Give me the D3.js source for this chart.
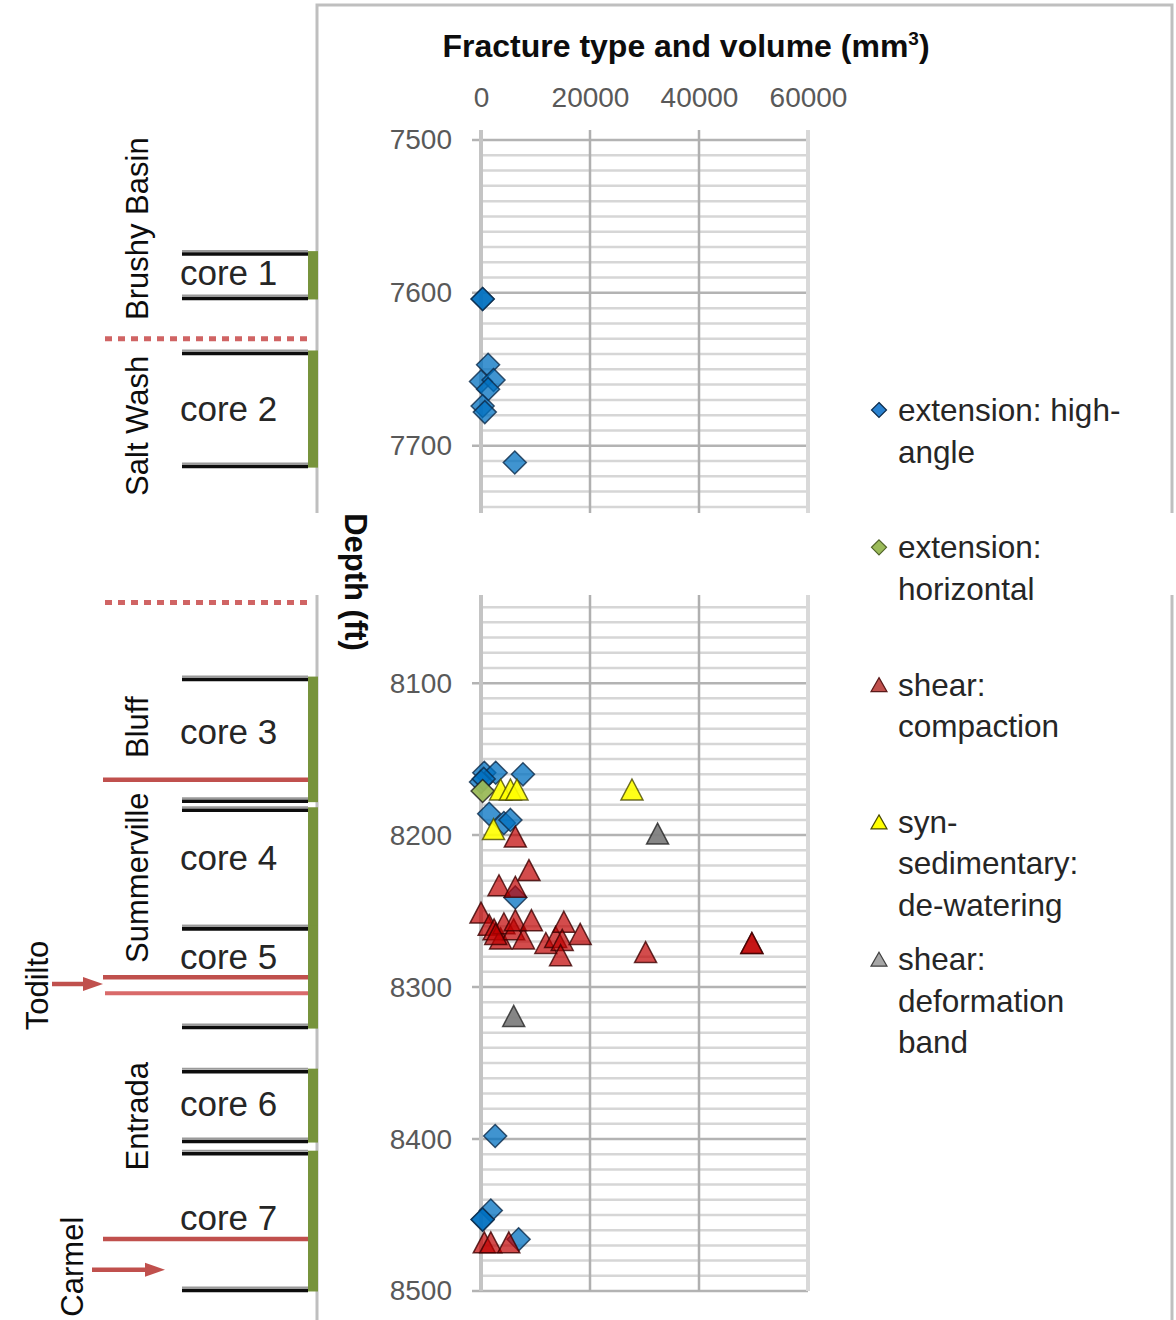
<!DOCTYPE html>
<html>
<head>
<meta charset="utf-8">
<script src="https://cdn.jsdelivr.net/npm/d3@7"></script>
<style>
  html, body { margin: 0; padding: 0; background: #fff; }
  svg { display: block; }
  text { font-family: "Liberation Sans", Arial, sans-serif; }
</style>
</head>
<body>
<svg id="chart" width="1176" height="1320"></svg>
<script>
// ---------------- DATA ----------------
const volumeTicks = [0, 20000, 40000, 60000];
const depthTicksTop = [7500, 7600, 7700];
const depthTicksBottom = [8100, 8200, 8300, 8400, 8500];

// [volume (mm^3), depth (ft)]
const extensionHighAngle = [
  [300, 7604], [300, 7604], [1300, 7647], [0, 7658], [2300, 7657], [1300, 7663],
  [300, 7674], [700, 7678], [6200, 7711],
  [600, 8159], [2700, 8159], [7700, 8160], [0, 8165], [500, 8163],
  [1500, 8186], [4200, 8192], [5400, 8190], [6300, 8241],
  [2600, 8398], [1800, 8447], [300, 8453], [300, 8453], [6900, 8466]
];
const extensionHorizontal = [[300, 8171]];
const shearCompaction = [
  [6300, 8201], [8800, 8223], [3300, 8233], [6300, 8234],
  [0, 8251], [1500, 8259], [2400, 8262], [3600, 8268], [4200, 8258],
  [6000, 8262], [6300, 8256], [7800, 8268], [9250, 8256], [2700, 8265],
  [11900, 8271], [13700, 8267], [15200, 8257], [14900, 8269], [18200, 8265],
  [14600, 8279], [30200, 8277], [49700, 8271], [49700, 8271],
  [600, 8468], [1800, 8468], [5100, 8468]
];
const synSedimentaryDewatering = [[3600, 8170], [5400, 8170], [6600, 8170], [2300, 8196], [27700, 8170]];
const shearDeformationBand = [[32400, 8199], [6000, 8319]];

const legendLabels = [
  ["extension: high-", "angle"],
  ["extension:", "horizontal"],
  ["shear:", "compaction"],
  ["syn-", "sedimentary:", "de-watering"],
  ["shear:", "deformation", "band"]
];

// cores: [label, top depth, bottom depth, label depth]
const cores = [
  ["core 1", 7574, 7603, 7587],
  ["core 2", 7639, 7713, 7676],
  ["core 3", 8097, 8177, 8132],
  ["core 4", 8183, 8261, 8215],
  ["core 5", 8261, 8326, 8280],
  ["core 6", 8355, 8401, 8377],
  ["core 7", 8409, 8499, 8452]
];
// formation names: [name, centre depth]
const formations = [
  ["Brushy Basin", 7558], ["Salt Wash", 7687], ["Bluff", 8129],
  ["Summerville", 8228], ["Entrada", 8385]
];
const sideFormations = [["Todilto", 8299], ["Carmel", 8484]];
const dottedBoundaries = [7630, 8047];
const solidBoundaries = [8163.5, 8293.5, 8465.8];
const paleBoundaries = [8304];
const arrowDepths = [8298, 8486];

// ---------------- SCALES ----------------
const svg = d3.select("#chart");
const x = d3.scaleLinear().domain([0, 60000]).range([481, 808]);
const yTop = d3.scaleLinear().domain([7500, 7744]).range([140, 513]);
const yBot = d3.scaleLinear().domain([8042, 8500]).range([595, 1291]);
const yOf = d => d < 7900 ? yTop(d) : yBot(d);

// ---------------- FRAME ----------------
const frameCol = "#bfbfbf";
svg.append("path")
  .attr("d", "M317,1320 L317,595 M317,513 L317,5 L1172,5 L1172,513 M1172,595 L1172,1320")
  .attr("fill", "none").attr("stroke", frameCol).attr("stroke-width", 3);

// ---------------- GRID ----------------
function grid(scale, d0, d1, yTopPx, yBotPx) {
  const g = svg.append("g");
  const minor = d3.range(Math.ceil(d0 / 10) * 10, d1 + 0.01, 10).filter(v => v % 100 !== 0);
  g.selectAll(".minor").data(minor).join("line")
    .attr("x1", x(0)).attr("x2", x(60000))
    .attr("y1", d => scale(d)).attr("y2", d => scale(d))
    .attr("stroke", "#d6d6d6").attr("stroke-width", 2.5);
  const major = d3.range(Math.ceil(d0 / 100) * 100, d1 + 0.01, 100);
  g.selectAll(".major").data(major).join("line")
    .attr("x1", x(0) - 9).attr("x2", x(60000))
    .attr("y1", d => scale(d)).attr("y2", d => scale(d))
    .attr("stroke", "#b3b3b3").attr("stroke-width", 2.5);
  g.selectAll(".v").data(volumeTicks).join("line")
    .attr("x1", d => x(d)).attr("x2", d => x(d))
    .attr("y1", yTopPx).attr("y2", yBotPx)
    .attr("stroke", (d, i) => (i === 0 ? "#c4c4c4" : i === volumeTicks.length - 1 ? "#d9d9d9" : "#b0b0b0"))
    .attr("stroke-width", (d, i) => (i === 0 || i === volumeTicks.length - 1) ? 4 : 2.5);
}
grid(yTop, 7500, 7744, 130, 513);
grid(yBot, 8042, 8500, 595, 1291);

// ---------------- AXES ----------------
function styleAxis(g) {
  g.select(".domain").remove();
  g.selectAll(".tick line").remove();
  g.selectAll(".tick text").attr("fill", "#595959")
    .style("font-size", "28px").style("font-family", "'Liberation Sans', Arial, sans-serif");
}
svg.append("g").attr("transform", "translate(0,140)")
  .call(d3.axisTop(x).tickValues(volumeTicks).tickFormat(d3.format("d")).tickSize(10).tickPadding(23))
  .call(styleAxis);
svg.append("g").attr("transform", "translate(481,0)")
  .call(d3.axisLeft(yTop).tickValues(depthTicksTop).tickFormat(d3.format("d")).tickSize(9).tickPadding(20))
  .call(styleAxis);
svg.append("g").attr("transform", "translate(481,0)")
  .call(d3.axisLeft(yBot).tickValues(depthTicksBottom).tickFormat(d3.format("d")).tickSize(9).tickPadding(20))
  .call(styleAxis);

// title
const title = svg.append("text").attr("x", 686).attr("y", 57).attr("text-anchor", "middle")
  .attr("font-weight", "bold").attr("font-size", 32).attr("fill", "#0d0d0d");
title.append("tspan").text("Fracture type and volume (mm");
title.append("tspan").attr("font-size", 19).attr("dy", -12).text("3");
title.append("tspan").attr("dy", 12).text(")");

// y label
svg.append("text").attr("transform", "translate(345,582) rotate(90)")
  .attr("text-anchor", "middle").attr("font-weight", "bold").attr("font-size", 31)
  .attr("fill", "#0d0d0d").text("Depth (ft)");

// ---------------- MARKERS ----------------
function diamond(r) { return `M0,${-r}L${r},0L0,${r}L${-r},0Z`; }
function triangle(w, h) { return `M0,${-h / 2}L${w / 2},${h / 2}L${-w / 2},${h / 2}Z`; }

const series = [
  { data: extensionHighAngle, shape: diamond(11.5), fill: "#0070c0", stroke: "#0b2a4a", op: 0.75 },
  { data: extensionHorizontal, shape: diamond(11.5), fill: "#9bbb59", stroke: "#1a1a1a", op: 0.95 },
  { data: shearCompaction, shape: triangle(22, 21), fill: "#c00000", stroke: "#3d0000", op: 0.7 },
  { data: synSedimentaryDewatering, shape: triangle(22, 21), fill: "#ffff00", stroke: "#4a4a00", op: 0.9 },
  { data: shearDeformationBand, shape: triangle(22, 21), fill: "#7f7f7f", stroke: "#262626", op: 0.95 }
];
const mk = svg.append("g");
series.forEach(s => {
  mk.append("g").selectAll("path").data(s.data).join("path")
    .attr("d", s.shape)
    .attr("transform", d => `translate(${x(d[0])},${yOf(d[1])})`)
    .attr("fill", s.fill).attr("fill-opacity", s.op)
    .attr("stroke", s.stroke).attr("stroke-opacity", 0.8).attr("stroke-width", 1.5);
});

// ---------------- LEGEND ----------------
const legendShapes = [diamond(7.5), diamond(7.5), triangle(16, 14), triangle(16, 14), triangle(16, 14)];
const legendFills = ["#2a82d0", "#9bbb59", "#c0504d", "#ffff00", "#a6a6a6"];
const legendStrokes = ["#0b2a4a", "#4f6228", "#5a1a1a", "#4a4a00", "#404040"];
const lg = svg.append("g");
legendLabels.forEach((lines, i) => {
  const y0 = 410 + i * 137.3;
  lg.append("path").attr("d", legendShapes[i]).attr("transform", `translate(879,${y0})`)
    .attr("fill", legendFills[i]).attr("stroke", legendStrokes[i]).attr("stroke-width", 1.2);
  lines.forEach((t, j) => {
    lg.append("text").attr("x", 898).attr("y", y0 + 11 + j * 41.5)
      .attr("font-size", 31.5).attr("fill", "#262626").text(t);
  });
});

// ---------------- FORMATION / CORE COLUMN ----------------
const col = svg.append("g");
// green bars
col.selectAll(".bar").data(cores).join("rect")
  .attr("x", 308).attr("width", 10)
  .attr("y", d => yOf(d[1]) - 2).attr("height", d => yOf(d[2]) - yOf(d[1]) + 4)
  .attr("fill", "#77933c");
// core boundary lines
const coreLines = [];
cores.forEach(c => { coreLines.push(c[1]); coreLines.push(c[2]); });
col.selectAll(".cl").data(coreLines).join("line")
  .attr("x1", 182).attr("x2", 308)
  .attr("y1", d => yOf(d) - 2).attr("y2", d => yOf(d) - 2)
  .attr("stroke", "#9a9a9a").attr("stroke-width", 2);
col.selectAll(".cl2").data(coreLines).join("line")
  .attr("x1", 182).attr("x2", 308)
  .attr("y1", d => yOf(d) + 1).attr("y2", d => yOf(d) + 1)
  .attr("stroke", "#0d0d0d").attr("stroke-width", 3.5);
// core labels
col.selectAll(".ct").data(cores).join("text")
  .attr("x", 180)
  .attr("y", d => yOf(d[3]) + 12)
  .attr("font-size", 35).attr("fill", "#262626").text(d => d[0]);

// boundaries
col.selectAll(".dot").data(dottedBoundaries).join("line")
  .attr("x1", 105).attr("x2", 308).attr("y1", d => yOf(d)).attr("y2", d => yOf(d))
  .attr("stroke", "#d06464").attr("stroke-width", 5).attr("stroke-dasharray", "7 6");
col.selectAll(".solid").data(solidBoundaries).join("line")
  .attr("x1", 103).attr("x2", 308).attr("y1", d => yOf(d)).attr("y2", d => yOf(d))
  .attr("stroke", "#c0504d").attr("stroke-width", 4.5);
col.selectAll(".pale").data(paleBoundaries).join("line")
  .attr("x1", 105).attr("x2", 308).attr("y1", d => yOf(d)).attr("y2", d => yOf(d))
  .attr("stroke", "#d96a6a").attr("stroke-width", 4);

// arrows
const arrowSpans = [[52, 103], [92, 165]];
arrowDepths.forEach((d, i) => {
  const y = yOf(d), [a, b] = arrowSpans[i];
  col.append("line").attr("x1", a).attr("x2", b - 12).attr("y1", y).attr("y2", y)
    .attr("stroke", "#c0504d").attr("stroke-width", 4.5);
  col.append("path").attr("d", `M${b},${y}L${b - 20},${y - 7}L${b - 20},${y + 7}Z`)
    .attr("fill", "#c0504d");
});

// formation names
col.selectAll(".fn").data(formations).join("text")
  .attr("transform", d => `translate(148,${yOf(d[1])}) rotate(-90)`)
  .attr("text-anchor", "middle").attr("font-size", 31).attr("fill", "#0d0d0d").text(d => d[0]);
const sideX = [48, 83];
col.selectAll(".sf").data(sideFormations).join("text")
  .attr("transform", (d, i) => `translate(${sideX[i]},${yOf(d[1])}) rotate(-90)`)
  .attr("text-anchor", "middle").attr("font-size", 31).attr("fill", "#0d0d0d").text(d => d[0]);
</script>
</body>
</html>
